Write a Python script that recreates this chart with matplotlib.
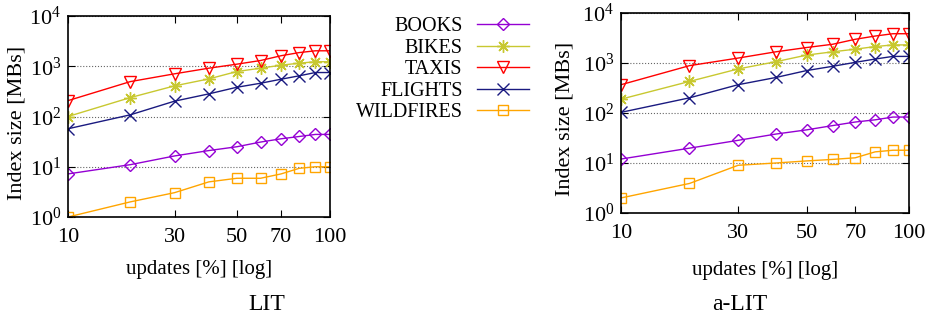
import matplotlib
matplotlib.use("Agg")
import matplotlib.pyplot as plt
import numpy as np

plt.rcParams['font.family'] = ['Liberation Serif', 'DejaVu Serif']
plt.rcParams['mathtext.fontset'] = 'custom'
plt.rcParams['mathtext.rm'] = 'Liberation Serif'
plt.rcParams['mathtext.it'] = 'Liberation Serif:italic'
plt.rcParams['font.size'] = 15

updates = [10, 20, 30, 40, 50, 60, 70, 80, 90, 100]
x_ticks = [10, 30, 50, 70, 100]
names = ['BOOKS', 'BIKES', 'TAXIS', 'FLIGHTS', 'WILDFIRES']

# LIT index size [MB]
lit_books = [7.2, 11, 16.4, 21, 25, 31, 36, 40, 44, 44]
lit_bikes = [100, 238, 407, 560, 785, 915, 1050, 1150, 1230, 1230]
lit_taxis = [207, 495, 707, 915, 1100, 1300, 1620, 1870, 2030, 2030]
lit_flights = [57, 108, 202, 282, 382, 459, 552, 645, 750, 750]
lit_wildfires = [1.0, 2.0, 3.05, 5.0, 5.9, 5.9, 7.2, 9.3, 10, 10]

# a-LIT index size [MB]
alit_books = [12, 19.8, 28.4, 37.9, 46, 56, 66, 73, 83, 83]
alit_bikes = [189, 428, 761, 1060, 1440, 1674, 1890, 2130, 2300, 2300]
alit_taxis = [368, 885, 1255, 1674, 2040, 2370, 2980, 3460, 3850, 3850]
alit_flights = [103, 201, 368, 513, 706, 859, 1030, 1200, 1355, 1355]
alit_wildfires = [2.0, 3.9, 9.0, 10, 11, 11.8, 12.7, 16.7, 18, 18]

colors = ['#9400D3', '#C8C830', '#FF0000', '#1A1A80', '#FFA500']
markers = ['D', (8, 2, 0), 'v', 'x', 's']
msizes = [6.5, 9, 8, 8, 7.5]


def draw(ax, series, xlab_y):
    handles = []
    for vals, c, m, ms, name in zip(series, colors, markers, msizes, names):
        h, = ax.plot(updates, vals, color=c, marker=m, markersize=ms,
                     markerfacecolor='none', markeredgecolor=c,
                     markeredgewidth=1.0, linewidth=1.0, label=name)
        handles.append(h)
    ax.set_xscale('function', functions=(lambda v: np.log10(np.asarray(v) + 10),
                                         lambda v: 10 ** np.asarray(v) - 10))
    ax.set_yscale('log')
    ax.set_xlim(10, 100)
    ax.set_ylim(1, 1e4)
    ax.set_xticks(x_ticks)
    ax.set_xticklabels([str(t) for t in x_ticks])
    ax.xaxis.set_minor_locator(plt.NullLocator())
    ax.set_yticks([1, 10, 100, 1000, 10000])
    ax.set_yticklabels([r'$10^{%d}$' % i for i in range(5)])
    ax.yaxis.set_minor_locator(matplotlib.ticker.LogLocator(base=10, subs=np.arange(2, 10)))
    ax.tick_params(which='both', direction='in', top=True, right=True)
    ax.tick_params(which='major', length=5, labelsize=16)
    ax.tick_params(axis='x', which='major', pad=8)
    ax.tick_params(axis='y', which='major', pad=5)
    ax.tick_params(which='minor', length=2.5)
    ax.grid(True, which='major', axis='y', linestyle=':', color='#666666', linewidth=0.8)
    for s in ax.spines.values():
        s.set_linewidth(1.2)
    ax.set_ylabel('Index size [MBs]', fontsize=16, va='center')
    ax.yaxis.set_label_coords(-0.195, 0.47)
    ax.set_xlabel('updates [%] [log]', fontsize=15, va='center')
    ax.xaxis.set_label_coords(0.5, xlab_y)
    return handles


fig = plt.figure(figsize=(9.29, 3.22), dpi=100)
W, H = 929, 322
ax1 = fig.add_axes([68 / W, 1 - 217 / H, (330 - 68) / W, (217 - 16) / H])
ax2 = fig.add_axes([621 / W, 1 - 213 / H, (909 - 621) / W, (213 - 13) / H])

hs = draw(ax1, [lit_books, lit_bikes, lit_taxis, lit_flights, lit_wildfires], -0.259)
draw(ax2, [alit_books, alit_bikes, alit_taxis, alit_flights, alit_wildfires], -0.285)

fig.legend(handles=hs, loc='upper right', bbox_to_anchor=(529 / W, 1 - 17 / H),
           frameon=False, markerfirst=False, handlelength=2.6, handletextpad=0.7,
           labelspacing=0.12, fontsize=14.5, borderaxespad=0, borderpad=0)

fig.text(267 / W, 1 - 305 / H, 'LIT', ha='center', va='center', fontsize=17)
fig.text(740 / W, 1 - 305 / H, 'a-LIT', ha='center', va='center', fontsize=17)

fig.savefig('out.png', dpi=100)
